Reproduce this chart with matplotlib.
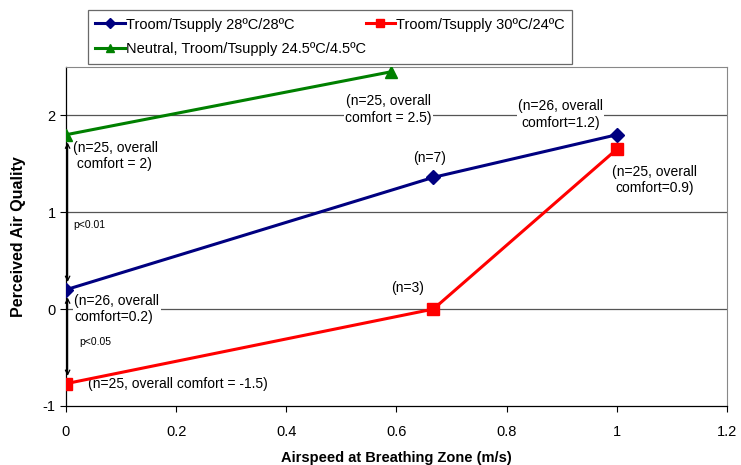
import matplotlib
matplotlib.use("Agg")
import matplotlib.pyplot as plt

plt.rcParams['font.family'] = ['Liberation Sans', 'DejaVu Sans']
plt.rcParams['axes.unicode_minus'] = False

# data
blue_x = [0, 0.667, 1.0]
blue_y = [0.2, 1.36, 1.8]
red_x = [0, 0.667, 1.0]
red_y = [-0.77, 0.0, 1.65]
green_x = [0, 0.59]
green_y = [1.8, 2.45]

labels = ["Troom/Tsupply 28ºC/28ºC",
          "Troom/Tsupply 30ºC/24ºC",
          "Neutral, Troom/Tsupply 24.5ºC/4.5ºC"]

xticks = [0, 0.2, 0.4, 0.6, 0.8, 1, 1.2]
xticklabels = ["0", "0.2", "0.4", "0.6", "0.8", "1", "1.2"]
yticks = [-1, 0, 1, 2]

fig = plt.figure(figsize=(7.41, 4.65), dpi=100)
ax = fig.add_axes([0.089, 0.127, 0.892, 0.729])

for y in [0, 1, 2]:
    ax.axhline(y, color='#555555', lw=0.9, zorder=1)

l1, = ax.plot(blue_x, blue_y, color='#000080', marker='D', ms=7, lw=2.2, zorder=3)
l2, = ax.plot(red_x, red_y, color='#ff0000', marker='s', ms=8, lw=2.2, zorder=3)
l3, = ax.plot(green_x, green_y, color='#008000', marker='^', ms=8, lw=2.2, zorder=3)

ax.set_xlim(0, 1.2)
ax.set_ylim(-1, 2.5)
ax.set_xticks(xticks)
ax.set_xticklabels(xticklabels)
ax.set_yticks(yticks)
ax.tick_params(axis='both', labelsize=10.5, direction='out', length=4, width=0.8)
ax.tick_params(axis='x', pad=10)

for s in ['top', 'right']:
    ax.spines[s].set_color('#888888')
    ax.spines[s].set_linewidth(0.8)
for s in ['left', 'bottom']:
    ax.spines[s].set_color('black')
    ax.spines[s].set_linewidth(0.9)

ax.set_xlabel("Airspeed at Breathing Zone (m/s)", fontsize=10.5, fontweight='bold', labelpad=8)
ax.set_ylabel("Perceived Air Quality", fontsize=11.5, fontweight='bold', labelpad=12)

box = dict(facecolor='white', edgecolor='none', pad=1)
fs = 10
ax.text(0.013, 1.74, "(n=25, overall\n comfort = 2)", fontsize=fs, va='top', ha='left', zorder=2)
ax.text(0.585, 2.06, "(n=25, overall\ncomfort = 2.5)", fontsize=fs, va='center', ha='center', bbox=box, zorder=2)
ax.text(0.898, 2.01, "(n=26, overall\ncomfort=1.2)", fontsize=fs, va='center', ha='center', bbox=box, zorder=2)
ax.text(0.66, 1.56, "(n=7)", fontsize=fs, va='center', ha='center', zorder=2)
ax.text(1.069, 1.33, "(n=25, overall\ncomfort=0.9)", fontsize=fs, va='center', ha='center', bbox=box, zorder=2)
ax.text(0.62, 0.22, "(n=3)", fontsize=fs, va='center', ha='center', zorder=2)
ax.text(0.015, 0.0, "(n=26, overall\ncomfort=0.2)", fontsize=fs, va='center', ha='left', bbox=box, zorder=2)
ax.text(0.04, -0.77, "(n=25, overall comfort = -1.5)", fontsize=fs, va='center', ha='left', zorder=2)
ax.text(0.014, 0.87, "p<0.01", fontsize=7.5, va='center', ha='left', zorder=2)
ax.text(0.025, -0.34, "p<0.05", fontsize=7.5, va='center', ha='left', zorder=2)

arrow = dict(arrowstyle='<->', color='black', lw=0.9, shrinkA=0, shrinkB=0, mutation_scale=8)
ax.annotate("", xy=(0.003, 1.72), xytext=(0.003, 0.28), arrowprops=arrow, zorder=2)
ax.annotate("", xy=(0.003, 0.12), xytext=(0.003, -0.69), arrowprops=arrow, zorder=2)

# column-first filling: blue/green in column 1, red in column 2
leg = fig.legend([l1, l3, l2], [labels[0], labels[2], labels[1]], ncol=2, loc='upper left',
                 bbox_to_anchor=(0.119, 0.865, 0.653, 0.113), mode='expand',
                 fontsize=10.5, frameon=True, fancybox=False, edgecolor='#444444',
                 handlelength=2.0, handletextpad=0.1, borderaxespad=0, borderpad=0.5,
                 labelspacing=0.75, columnspacing=1.0, markerscale=0.8)
leg.get_frame().set_linewidth(0.9)

fig.savefig("out.png", dpi=100)
